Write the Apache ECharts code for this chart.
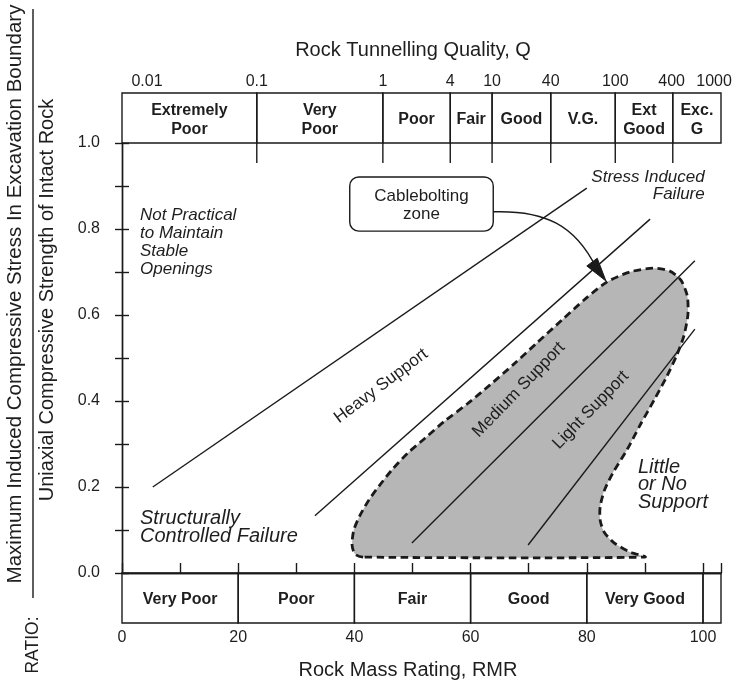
<!DOCTYPE html>
<html>
<head>
<meta charset="utf-8">
<title>Cablebolting zone – RMR / Q support chart</title>
<script src="https://cdn.jsdelivr.net/npm/echarts@6/dist/echarts.min.js"></script>
<style>
  html, body { margin: 0; padding: 0; background: #ffffff; }
  #chart { width: 739px; height: 685px; }
</style>
</head>
<body>
<div id="chart"></div>
<script>
// ---- Data -------------------------------------------------------------

// RMR classes in the bottom band (RMR units)
const rmrClassNames = ['Very Poor', 'Poor', 'Fair', 'Good', 'Very Good', ''];
const rmrClassFrom  = [0, 20, 40, 60, 80, 100];
const rmrClassTo    = [20, 40, 60, 80, 100, 103.1];

// Q classes in the top band, boundaries expressed on the RMR scale
const qClassNames = ['Extremely\nPoor', 'Very\nPoor', 'Poor', 'Fair', 'Good', 'V.G.', 'Ext\nGood', 'Exc.\nG'];
const qBounds     = [0, 23.2, 44.9, 56.5, 63.7, 73.8, 84.9, 94.8, 103.1];
const qTickLabels = ['0.01', '0.1', '1', '4', '10', '40', '100', '400', '1000'];
const qTickAt     = [4.3, 23.2, 44.9, 56.5, 63.7, 73.8, 84.9, 94.6, 101.9];

// Support boundaries, [RMR, stress ratio] end points
const stressFailureLine = [[5.3, 0.200], [80.0, 0.895]];
const heavyMediumLine   = [[33.2, 0.133], [90.9, 0.823]];
const mediumLightLine   = [[49.9, 0.070], [98.6, 0.726]];
const lightNoneLine     = [[69.9, 0.065], [98.6, 0.567]];

// Outline of the cablebolting zone, [RMR, stress ratio]
const cableZone = [
  [41.5, 0.037], [40.1, 0.044], [39.6, 0.065], [39.9, 0.100], [41.0, 0.135],
  [42.5, 0.170], [44.4, 0.205], [46.6, 0.242], [49.2, 0.279], [52.2, 0.314],
  [55.6, 0.354], [59.4, 0.393], [63.3, 0.437], [67.3, 0.484], [71.4, 0.535],
  [75.7, 0.588], [79.7, 0.637], [83.5, 0.677], [87.4, 0.700], [91.4, 0.709],
  [94.3, 0.702], [96.2, 0.681], [97.3, 0.644], [97.4, 0.600], [96.7, 0.551],
  [95.5, 0.507], [93.8, 0.458], [91.7, 0.405], [89.3, 0.347], [86.9, 0.286],
  [84.5, 0.233], [83.0, 0.191], [82.3, 0.154], [82.3, 0.123], [83.0, 0.095],
  [84.7, 0.070], [87.4, 0.049], [90.0, 0.037]
];

// Callout box and its curved pointer
const calloutCorners = [[39.2, 0.921], [63.9, 0.795]];
const calloutText = 'Cablebolting\nzone';
const pointerCurve = [[63.9, 0.840], [72.8, 0.844], [78.0, 0.809], [80.9, 0.723]];
const pointerTip = [83.3, 0.679];

// ---- Styling ----------------------------------------------------------
const FONT = '"Liberation Sans", Arial, Helvetica, sans-serif';
const INK = '#1a1a1a';
const TEXT = '#1e1e1e';
const ZONE_FILL = '#b6b6b6';
const LW = 1.4;
const RMR_MAX = 103.1;

const GRID_LEFT = 122, GRID_W = 599;

// In-plot annotations: text, anchor [RMR, ratio], alignment, font, line height, rotation (deg)
const notes = [
  { text: 'Not Practical\nto Maintain\nStable\nOpenings', at: [3.1, 0.769], align: 'left',  font: 'italic 17px ' + FONT, lh: 18, rot: 0 },
  { text: 'Stress Induced\nFailure',                      at: [100.3, 0.901], align: 'right', font: 'italic 17px ' + FONT, lh: 17, rot: 0 },
  { text: 'Structurally\nControlled Failure',             at: [3.1, 0.107], align: 'left',  font: 'italic 20px ' + FONT, lh: 18, rot: 0 },
  { text: 'Little\nor No\nSupport',                       at: [88.8, 0.205], align: 'left',  font: 'italic 20px ' + FONT, lh: 17.5, rot: 0 },
  { text: 'Heavy Support',  at: [44.6, 0.435], align: 'center', font: '17px ' + FONT, lh: 18, rot: 37 },
  { text: 'Medium Support', at: [68.3, 0.426], align: 'center', font: '17px ' + FONT, lh: 18, rot: 46 },
  { text: 'Light Support',  at: [80.7, 0.379], align: 'center', font: '17px ' + FONT, lh: 18, rot: 46 }
];

function textStyle(text, font, align, vAlign, extra) {
  return Object.assign({
    text: text, font: font, fill: TEXT,
    align: align, textAlign: align,
    verticalAlign: vAlign, textVerticalAlign: vAlign
  }, extra || {});
}

function boundaryLine(data) {
  return {
    type: 'line', xAxisIndex: 0, yAxisIndex: 0, data: data,
    symbol: 'none', silent: true, z: 4,
    lineStyle: { color: INK, width: LW }
  };
}

// Band of labelled boxes (used for both the Q and RMR classes)
function bandSeries(axisIdx, from, to, names, font) {
  return {
    type: 'custom', xAxisIndex: axisIdx, yAxisIndex: axisIdx, clip: false, silent: true, z: 3,
    data: from.map((f, i) => [f, to[i]]),
    renderItem: function (params, api) {
      const a = api.coord([api.value(0), 0]);
      const b = api.coord([api.value(1), 1]);
      const name = names[params.dataIndex];
      return {
        type: 'group',
        children: [
          { type: 'rect', shape: { x: a[0], y: b[1], width: b[0] - a[0], height: a[1] - b[1] },
            style: { fill: 'none', stroke: INK, lineWidth: LW } },
          { type: 'text', x: (a[0] + b[0]) / 2, y: (a[1] + b[1]) / 2 + 2,
            style: textStyle(name, font, 'center', 'middle', { lineHeight: 19 }) }
        ]
      };
    }
  };
}

const chart = echarts.init(document.getElementById('chart'), null, { renderer: 'canvas' });

const option = {
  backgroundColor: '#ffffff',
  animation: false,
  grid: [
    { left: GRID_LEFT, top: 143, width: GRID_W, height: 430 },   // main plot
    { left: GRID_LEFT, top: 93,  width: GRID_W, height: 50 },    // Q classes
    { left: GRID_LEFT, top: 573, width: GRID_W, height: 50 }     // RMR classes
  ],
  xAxis: [
    { gridIndex: 0, type: 'value', position: 'bottom', min: 0, max: RMR_MAX, interval: 10,
      axisLine: { show: true, lineStyle: { color: INK, width: LW } },
      axisTick: { show: true, inside: true, length: 10, lineStyle: { color: INK, width: LW } },
      axisLabel: { show: false }, splitLine: { show: false } },
    { gridIndex: 0, type: 'value', position: 'top', min: 0, max: RMR_MAX,
      axisLine: { show: true, lineStyle: { color: INK, width: LW } },
      axisTick: { show: false }, axisLabel: { show: false }, splitLine: { show: false } },
    { gridIndex: 1, type: 'value', min: 0, max: RMR_MAX, show: false },
    { gridIndex: 2, type: 'value', position: 'bottom', min: 0, max: RMR_MAX, interval: 20,
      axisLine: { show: false }, axisTick: { show: false }, splitLine: { show: false },
      axisLabel: {
        show: true, margin: 7, color: TEXT, fontSize: 16, fontFamily: FONT,
        formatter: v => (v % 20 === 0 && v <= 100 ? String(v) : '')
      } }
  ],
  yAxis: [
    { gridIndex: 0, type: 'value', position: 'left', min: 0, max: 1, interval: 0.1,
      axisLine: { show: true, lineStyle: { color: INK, width: LW } },
      axisTick: { show: true, inside: false, length: 7, lineStyle: { color: INK, width: LW } },
      splitLine: { show: false },
      axisLabel: {
        show: true, margin: 22, color: TEXT, fontSize: 16, fontFamily: FONT,
        formatter: v => (Math.round(v * 10) % 2 === 0 ? v.toFixed(1) : '')
      } },
    { gridIndex: 0, type: 'value', position: 'right', min: 0, max: 1, interval: 0.1,
      axisLine: { show: true, lineStyle: { color: INK, width: LW } },
      axisTick: { show: true, inside: false, length: 7, lineStyle: { color: INK, width: LW } },
      splitLine: { show: false }, axisLabel: { show: false } },
    { gridIndex: 1, type: 'value', min: 0, max: 1, show: false },
    { gridIndex: 2, type: 'value', min: 0, max: 1, show: false }
  ],
  graphic: [
    { type: 'text', x: 413, y: 50, silent: true,
      style: textStyle('Rock Tunnelling Quality, Q', '20px ' + FONT, 'center', 'middle') },
    { type: 'text', x: 408, y: 670, silent: true,
      style: textStyle('Rock Mass Rating, RMR', '20px ' + FONT, 'center', 'middle') },
    { type: 'text', x: 15, y: 294, rotation: Math.PI / 2, silent: true,
      style: textStyle('Maximum Induced Compressive Stress In Excavation Boundary', '20.5px ' + FONT, 'center', 'middle') },
    { type: 'line', silent: true, shape: { x1: 33, y1: 9, x2: 33, y2: 598 },
      style: { stroke: INK, lineWidth: LW } },
    { type: 'text', x: 47, y: 300, rotation: Math.PI / 2, silent: true,
      style: textStyle('Uniaxial Compressive Strength of Intact Rock', '20px ' + FONT, 'center', 'middle') },
    { type: 'text', x: 33, y: 645, rotation: Math.PI / 2, silent: true,
      style: textStyle('RATIO:', '17.5px ' + FONT, 'center', 'middle') }
  ],
  series: [
    // Cablebolting zone
    {
      type: 'custom', xAxisIndex: 0, yAxisIndex: 0, clip: false, silent: true, z: 2,
      data: [0],
      renderItem: function (params, api) {
        return {
          type: 'polygon',
          shape: { points: cableZone.map(p => api.coord(p)), smooth: 0.25 },
          style: { fill: ZONE_FILL, stroke: INK, lineWidth: 2.8, lineDash: [7.5, 4.5] }
        };
      }
    },
    boundaryLine(stressFailureLine),
    boundaryLine(heavyMediumLine),
    boundaryLine(mediumLightLine),
    boundaryLine(lightNoneLine),
    // Q class boundaries continue a little into the plot
    {
      type: 'custom', xAxisIndex: 0, yAxisIndex: 0, clip: false, silent: true, z: 3,
      data: qBounds.slice(1, -1),
      renderItem: function (params, api) {
        const p = api.coord([api.value(0), 1]);
        return { type: 'line', shape: { x1: p[0], y1: p[1], x2: p[0], y2: p[1] + 20 },
                 style: { stroke: INK, lineWidth: LW } };
      }
    },
    // Q class band and tick values
    bandSeries(2, qBounds.slice(0, -1), qBounds.slice(1), qClassNames, 'bold 16px ' + FONT),
    {
      type: 'custom', xAxisIndex: 2, yAxisIndex: 2, clip: false, silent: true, z: 3,
      data: qTickAt,
      renderItem: function (params, api) {
        const p = api.coord([api.value(0), 1]);
        return { type: 'text', x: p[0], y: p[1] - 11,
                 style: textStyle(qTickLabels[params.dataIndex], '16px ' + FONT, 'center', 'middle') };
      }
    },
    // RMR class band
    bandSeries(3, rmrClassFrom, rmrClassTo, rmrClassNames, 'bold 16px ' + FONT),
    // Callout box with curved pointer
    {
      type: 'custom', xAxisIndex: 0, yAxisIndex: 0, clip: false, silent: true, z: 6,
      data: [0],
      renderItem: function (params, api) {
        const c0 = api.coord(calloutCorners[0]);
        const c1 = api.coord(calloutCorners[1]);
        const q = pointerCurve.map(p => api.coord(p));
        const tip = api.coord(pointerTip);
        const dx = tip[0] - q[3][0], dy = tip[1] - q[3][1];
        const len = Math.hypot(dx, dy);
        const nx = -dy / len * 6.5, ny = dx / len * 6.5;
        return {
          type: 'group',
          children: [
            { type: 'rect', shape: { x: c0[0], y: c0[1], width: c1[0] - c0[0], height: c1[1] - c0[1], r: 9 },
              style: { fill: '#ffffff', stroke: INK, lineWidth: LW } },
            { type: 'text', x: (c0[0] + c1[0]) / 2, y: (c0[1] + c1[1]) / 2 + 1,
              style: textStyle(calloutText, '17px ' + FONT, 'center', 'middle', { lineHeight: 18 }) },
            { type: 'bezierCurve',
              shape: { x1: q[0][0], y1: q[0][1], cpx1: q[1][0], cpy1: q[1][1],
                       cpx2: q[2][0], cpy2: q[2][1], x2: q[3][0] + dx * 0.3, y2: q[3][1] + dy * 0.3 },
              style: { fill: 'none', stroke: INK, lineWidth: LW } },
            { type: 'polygon',
              shape: { points: [[q[3][0] + nx, q[3][1] + ny], tip, [q[3][0] - nx, q[3][1] - ny]] },
              style: { fill: INK, stroke: INK, lineWidth: 1 } }
          ]
        };
      }
    },
    // Region and support labels
    {
      type: 'custom', xAxisIndex: 0, yAxisIndex: 0, clip: false, silent: true, z: 7,
      data: notes.map((n, i) => i),
      renderItem: function (params, api) {
        const n = notes[params.dataIndex];
        const p = api.coord(n.at);
        return { type: 'text', x: p[0], y: p[1], rotation: n.rot * Math.PI / 180,
                 style: textStyle(n.text, n.font, n.align, 'middle', { lineHeight: n.lh }) };
      }
    }
  ]
};

chart.setOption(option);
</script>
</body>
</html>
